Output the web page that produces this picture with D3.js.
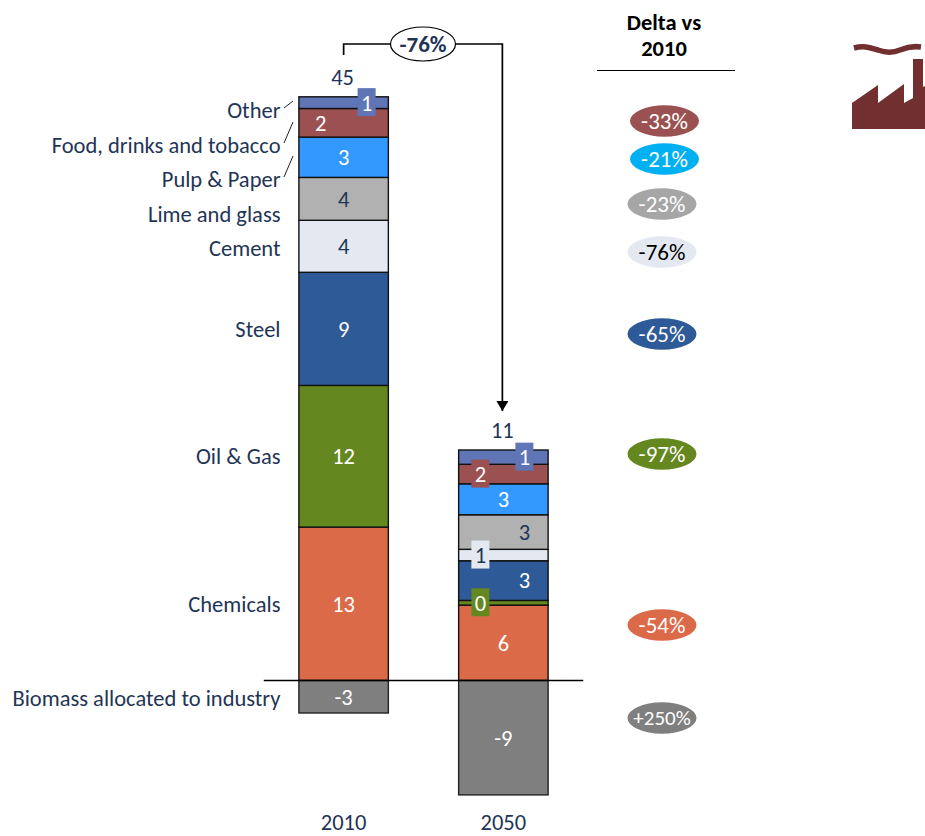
<!DOCTYPE html>
<html>
<head>
<meta charset="utf-8">
<style>
html,body{margin:0;padding:0;background:#fff;overflow:hidden;}
svg{display:block;}
text{font-family:Carlito,Calibri,Lato,"Open Sans",sans-serif;}
</style>
<script src="https://cdnjs.cloudflare.com/ajax/libs/d3/7.8.5/d3.min.js"></script>
</head>
<body>
<svg id="chart" width="925" height="836"></svg>
<script>
const years = ["2010", "2050"];
const categories = ["Chemicals", "Oil & Gas", "Steel", "Cement", "Lime and glass", "Pulp & Paper", "Food, drinks and tobacco", "Other"];
const biomassName = "Biomass allocated to industry";
const heights2010 = [11.8, 10.9, 8.7, 4.0, 3.3, 3.1, 2.2, 0.9];
const heights2050 = [5.8, 0.36, 3.05, 0.88, 2.66, 2.38, 1.5, 1.1];
const biomassHeights = [-2.5, -8.8];
const labels2010 = ["13", "12", "9", "4", "4", "3", "2", "1"];
const labels2050 = ["6", "0", "3", "1", "3", "3", "2", "1"];
const biomassLabels = ["-3", "-9"];
const totals = ["45", "11"];
const deltaLabels = ["-54%", "-97%", "-65%", "-76%", "-23%", "-21%", "-33%"];
const biomassDelta = "+250%";
const overallDelta = "-76%";
const deltaTitle = ["Delta vs", "2010"];

/* presentation */
const segColors = ["#DB6A49", "#64881F", "#2E5A97", "#E4E9F1", "#B1B1B1", "#3399FF", "#9B5151", "#5F75B5"];
const biomassColor = "#7F7F7F";
const navy = "#1F3556";
const labelColors = ["#fff", "#fff", "#fff", navy, navy, "#fff", "#fff", "#fff"];
const deltaColors = ["#DB6A49", "#64881F", "#2E5A97", "#E4E9F1", "#A6A6A6", "#00B0F0", "#9B5151"];
const deltaTextColors = ["#fff", "#fff", "#fff", "#000", "#fff", "#fff", "#fff"];
const deltaY = [625, 454, 334, 252, 204, 159, 121];
const deltaX = [662, 662, 662, 662, 662, 664.5, 664.5];
const biomassDeltaY = 718;
const catLabelY = [604, 456, 329, 248, 214, 179, 145, 110];
const biomassLabelY = 698;
const shift2010 = [0, 0, 0, 0, 0, 0, -23, 23];
const shift2050 = [0, -23, 21, -23, 21, 0, -23, 21];
const boxed2010 = [0, 0, 0, 0, 0, 0, 0, 1];
const boxed2050 = [0, 1, 0, 1, 0, 0, 1, 1];

const svg = d3.select("#chart");
const x = d3.scaleBand().domain(years).range([263.75, 583.25]).paddingInner(0.44).paddingOuter(0.22);
const y = d3.scaleLinear().domain([0, 45]).range([680.5, 95.5]);
const FS = 22.5;
const DY = "0.35em";

function drawColumn(year, heights, labels, shift, boxed, bioH, bioL) {
  const g = svg.append("g");
  const bw = x.bandwidth(), x0 = x(year), cx = x0 + bw / 2;
  const stack = [];
  let acc = 0;
  heights.forEach((h, i) => { stack.push({i, y0: acc, y1: acc + h, label: labels[i]}); acc += h; });

  g.selectAll("rect.seg").data(stack).join("rect").attr("class", "seg")
    .attr("x", x0).attr("width", bw)
    .attr("y", d => y(d.y1)).attr("height", d => y(d.y0) - y(d.y1))
    .attr("fill", d => segColors[d.i]).attr("stroke", "#111").attr("stroke-width", 1.4);

  g.append("rect").attr("x", x0).attr("width", bw)
    .attr("y", y(0)).attr("height", y(bioH) - y(0))
    .attr("fill", biomassColor).attr("stroke", "#222").attr("stroke-width", 1.4);

  g.selectAll("rect.box").data(stack.filter(d => boxed[d.i])).join("rect").attr("class", "box")
    .attr("x", d => cx + shift[d.i] - 9).attr("width", 18)
    .attr("y", d => y((d.y0 + d.y1) / 2) - 14.5).attr("height", 28)
    .attr("fill", d => segColors[d.i]);

  g.selectAll("text.val").data(stack).join("text").attr("class", "val")
    .attr("x", d => cx + shift[d.i]).attr("y", d => y((d.y0 + d.y1) / 2))
    .attr("dy", DY).attr("text-anchor", "middle").attr("font-size", FS)
    .attr("fill", d => labelColors[d.i]).text(d => d.label);

  g.append("text").attr("x", cx).attr("y", y(bioH / 2)).attr("dy", DY)
    .attr("text-anchor", "middle").attr("font-size", FS).attr("fill", "#fff").text(bioL);

  g.append("text").attr("x", cx - 1).attr("y", y(acc) - 20).attr("dy", DY)
    .attr("text-anchor", "middle").attr("font-size", FS).attr("fill", navy)
    .text(totals[years.indexOf(year)]);

  g.append("text").attr("x", cx).attr("y", 822.5).attr("dy", DY)
    .attr("text-anchor", "middle").attr("font-size", FS).attr("fill", navy).text(year);
}
drawColumn("2010", heights2010, labels2010, shift2010, boxed2010, biomassHeights[0], biomassLabels[0]);
drawColumn("2050", heights2050, labels2050, shift2050, boxed2050, biomassHeights[1], biomassLabels[1]);

/* zero line */
svg.append("line").attr("x1", x.range()[0]).attr("x2", x.range()[1])
  .attr("y1", y(0)).attr("y2", y(0)).attr("stroke", "#000").attr("stroke-width", 1.3);

/* category labels */
svg.append("g").selectAll("text").data(categories).join("text")
  .attr("x", 280.5).attr("y", (d, i) => catLabelY[i]).attr("dy", DY)
  .attr("text-anchor", "end").attr("font-size", FS).attr("fill", navy).text(d => d);
svg.append("text").attr("x", 280.5).attr("y", biomassLabelY).attr("dy", DY)
  .attr("text-anchor", "end").attr("font-size", FS).attr("fill", navy).text(biomassName);

/* leader ticks */
const leaders = [[284, 108, 293, 101], [284, 143, 293, 122], [284, 177, 293, 156]];
svg.append("g").selectAll("line").data(leaders).join("line")
  .attr("x1", d => d[0]).attr("y1", d => d[1]).attr("x2", d => d[2]).attr("y2", d => d[3])
  .attr("stroke", "#222").attr("stroke-width", 1);

/* overall delta connector */
const cx10 = x("2010") + x.bandwidth() / 2, cx50 = x("2050") + x.bandwidth() / 2;
svg.append("defs").append("marker").attr("id", "arrow").attr("viewBox", "0 0 10 10")
  .attr("refX", 10).attr("refY", 5).attr("markerWidth", 10).attr("markerHeight", 12)
  .attr("markerUnits", "userSpaceOnUse").attr("orient", "auto").attr("preserveAspectRatio", "none")
  .append("path").attr("d", "M0,0L10,5L0,10Z").attr("fill", "#000");
svg.append("path").attr("fill", "none").attr("stroke", "#000").attr("stroke-width", 1.7)
  .attr("marker-end", "url(#arrow)")
  .attr("d", d3.line()([[cx10, 55], [cx10, 44], [cx50 - 1, 44], [cx50 - 1, 411]]));
svg.append("ellipse").attr("cx", 423).attr("cy", 44).attr("rx", 32.5).attr("ry", 17)
  .attr("fill", "#fff").attr("stroke", "#000").attr("stroke-width", 1.2);
svg.append("text").attr("x", 423).attr("y", 44).attr("dy", DY).attr("text-anchor", "middle")
  .attr("font-size", 23).attr("font-weight", 700).attr("fill", navy).text(overallDelta);

/* delta column */
svg.append("g").selectAll("text").data(deltaTitle).join("text")
  .attr("x", 664).attr("y", (d, i) => 22 + i * 26).attr("dy", DY)
  .attr("text-anchor", "middle").attr("font-size", FS).attr("font-weight", 700).attr("fill", "#000").text(d => d);
svg.append("line").attr("x1", 597).attr("x2", 735).attr("y1", 70.5).attr("y2", 70.5)
  .attr("stroke", "#000").attr("stroke-width", 1.2);

const bubble = svg.append("g");
const bubbleData = deltaLabels.map((t, i) => ({t, x: deltaX[i], y: deltaY[i], f: deltaColors[i], c: deltaTextColors[i], s: 23}))
  .concat([{t: biomassDelta, x: 662, y: biomassDeltaY, f: biomassColor, c: "#fff", s: 21}]);
bubble.selectAll("ellipse").data(bubbleData).join("ellipse")
  .attr("cx", d => d.x).attr("cy", d => d.y).attr("rx", 34.5).attr("ry", 15.7).attr("fill", d => d.f);
bubble.selectAll("text").data(bubbleData).join("text")
  .attr("x", d => d.x).attr("y", d => d.y).attr("dy", DY).attr("text-anchor", "middle")
  .attr("font-size", d => d.s).attr("fill", d => d.c).text(d => d.t);

/* factory icon */
const iconColor = "#722F2F";
svg.append("path").attr("fill", iconColor)
  .attr("d", "M852,129V103L878,85V103L904,84V103L913,98V59H923V87L925,86V129Z");
svg.append("path").attr("fill", "none").attr("stroke", iconColor).attr("stroke-width", 5.5)
  .attr("d", "M854,48C865,45 871,48 878,50C886,53 893,53 900,50C907,47 914,46 921,47");
</script>
</body>
</html>
